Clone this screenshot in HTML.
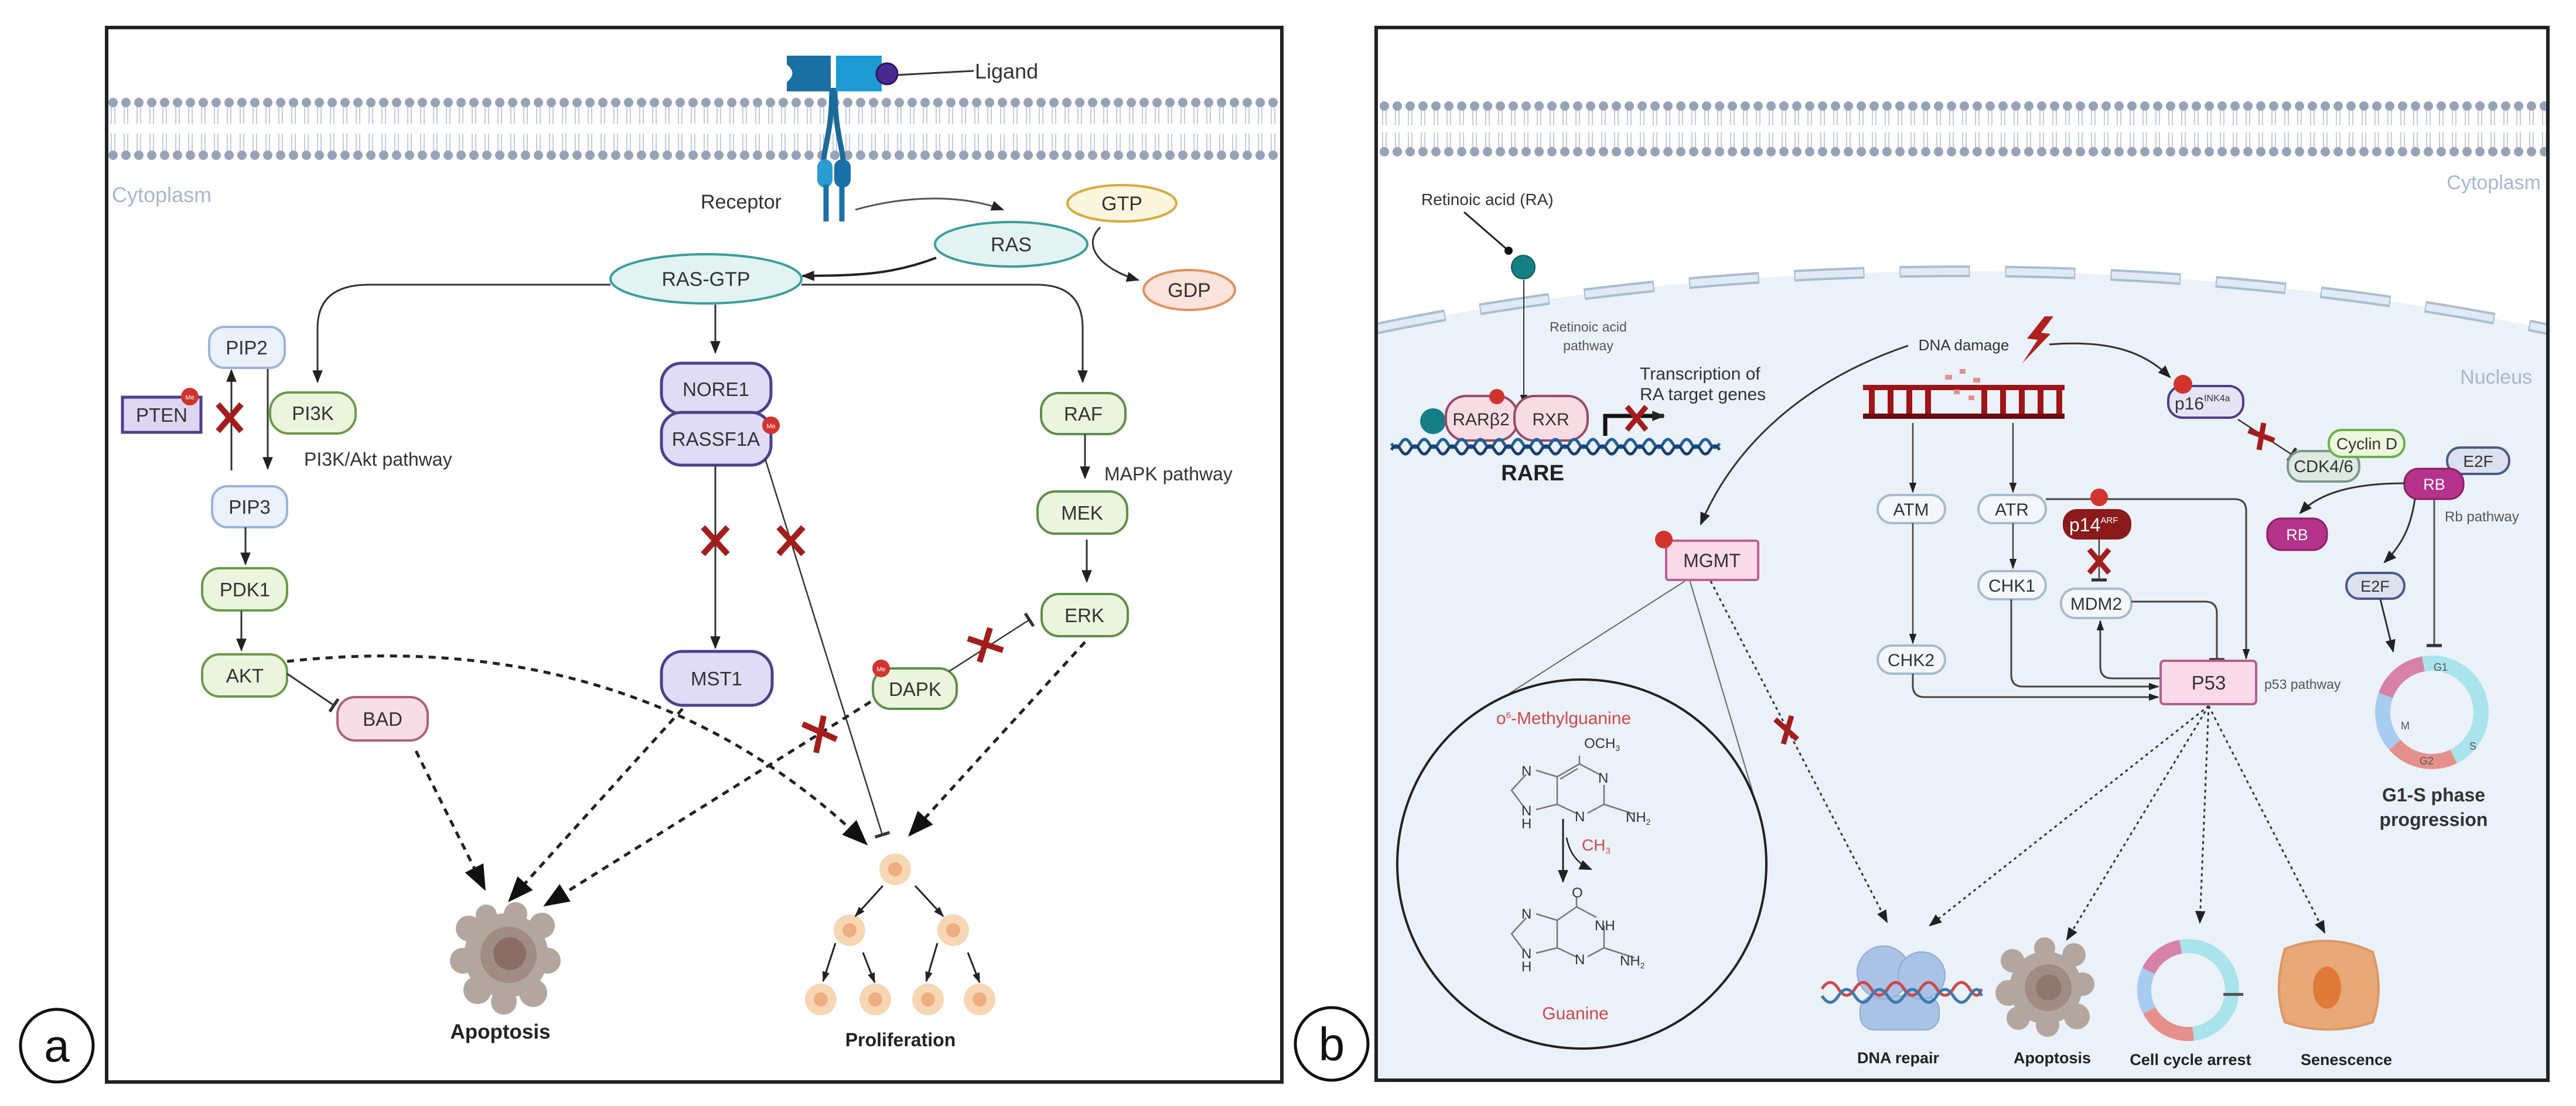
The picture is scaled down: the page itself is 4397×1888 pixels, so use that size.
<!DOCTYPE html>
<html><head><meta charset="utf-8"><style>
html,body{margin:0;padding:0;background:#fff;width:4397px;height:1888px;overflow:hidden;}
svg{display:block;font-family:"Liberation Sans",sans-serif;}
</style></head><body>
<svg width="4397" height="1888" viewBox="0 0 4397 1888" xmlns="http://www.w3.org/2000/svg" overflow="hidden">
<defs>
<marker id="ar" markerUnits="userSpaceOnUse" markerWidth="22" markerHeight="22" viewBox="0 0 10 10" refX="9" refY="5" orient="auto"><path d="M0,1 L10,5 L0,9 z" fill="#222"/></marker>
<marker id="arB" markerUnits="userSpaceOnUse" markerWidth="44" markerHeight="44" viewBox="0 0 10 10" refX="9" refY="5" orient="auto"><path d="M0,1 L10,5 L0,9 z" fill="#111"/></marker>
<marker id="arS" markerUnits="userSpaceOnUse" markerWidth="18" markerHeight="18" viewBox="0 0 10 10" refX="9" refY="5" orient="auto"><path d="M0,1.5 L10,5 L0,8.5 z" fill="#222"/></marker>
<marker id="bar" markerUnits="userSpaceOnUse" markerWidth="6" markerHeight="26" viewBox="0 0 4 20" refX="2" refY="10" orient="auto"><rect x="0" y="0" width="4" height="20" fill="#333"/></marker>
<marker id="dot" markerUnits="userSpaceOnUse" markerWidth="14" markerHeight="14" viewBox="0 0 10 10" refX="5" refY="5"><circle cx="5" cy="5" r="5" fill="#111"/></marker>
<pattern id="memA" patternUnits="userSpaceOnUse" x="182" y="160" width="22" height="120">
<line x1="8" y1="22" x2="8" y2="52" stroke="#c5cddb" stroke-width="2"/><line x1="14" y1="22" x2="14" y2="52" stroke="#c5cddb" stroke-width="2"/>
<line x1="8" y1="68" x2="8" y2="98" stroke="#c5cddb" stroke-width="2"/><line x1="14" y1="68" x2="14" y2="98" stroke="#c5cddb" stroke-width="2"/>
<circle cx="11" cy="15" r="8" fill="#95a2b8"/><circle cx="11" cy="105" r="8" fill="#95a2b8"/>
</pattern>
<pattern id="memB" patternUnits="userSpaceOnUse" x="2352" y="166" width="22" height="108">
<line x1="8" y1="22" x2="8" y2="48" stroke="#c5cddb" stroke-width="2"/><line x1="14" y1="22" x2="14" y2="48" stroke="#c5cddb" stroke-width="2"/>
<line x1="8" y1="60" x2="8" y2="86" stroke="#c5cddb" stroke-width="2"/><line x1="14" y1="60" x2="14" y2="86" stroke="#c5cddb" stroke-width="2"/>
<circle cx="11" cy="15" r="8" fill="#95a2b8"/><circle cx="11" cy="93" r="8" fill="#95a2b8"/>
</pattern>
</defs>

<!-- ================= PANEL A ================= -->
<rect x="182" y="47" width="2006" height="1800" fill="#fff" stroke="#222" stroke-width="6"/>
<rect x="185" y="160" width="2000" height="120" fill="url(#memA)"/>
<text x="191" y="345" font-size="36" fill="#a9b6d2">Cytoplasm</text>

<path d="M1420,150 C1420,230 1405,250 1405,290 M1425,150 C1425,230 1440,250 1440,290" stroke="#1a6a9a" stroke-width="9" fill="none"/>
<rect x="1395" y="272" width="26" height="48" rx="13" fill="#2a9bd0"/>
<rect x="1424" y="272" width="28" height="48" rx="13" fill="#1a70a8"/>
<line x1="1410" y1="315" x2="1410" y2="378" stroke="#1a70a8" stroke-width="9"/>
<line x1="1437" y1="315" x2="1437" y2="378" stroke="#1a70a8" stroke-width="9"/>
<path d="M1343,95 L1418,95 L1418,156 L1343,156 L1343,140 Q1362,125 1343,110 Z" fill="#1a6fa5"/>
<path d="M1427,95 L1505,95 L1505,156 L1427,156 Z" fill="#1e9ad4"/>
<circle cx="1514" cy="126" r="18" fill="#4b2a8f" stroke="#2a1560" stroke-width="3"/>
<line x1="1532" y1="128" x2="1662" y2="121" stroke="#333" stroke-width="3"/>
<text x="1664" y="134" font-size="36" fill="#333">Ligand</text>
<text x="1196" y="356" font-size="34" fill="#333">Receptor</text>
<path d="M1460,358 C1560,330 1650,335 1712,358" stroke="#555" stroke-width="3" fill="none" marker-end="url(#ar)"/>

<ellipse cx="1915" cy="347" rx="93" ry="31" fill="#fdf6de" stroke="#d9a93c" stroke-width="4"/>
<text x="1915" y="359" font-size="34" text-anchor="middle" fill="#333">GTP</text>
<ellipse cx="1726" cy="417" rx="130" ry="38" fill="#e2f3f1" stroke="#3c9e9c" stroke-width="4"/>
<text x="1726" y="429" font-size="34" text-anchor="middle" fill="#333">RAS</text>
<ellipse cx="2030" cy="495" rx="78" ry="34" fill="#fbe3dc" stroke="#e0925a" stroke-width="4"/>
<text x="2030" y="507" font-size="34" text-anchor="middle" fill="#333">GDP</text>
<path d="M1878,388 C1845,420 1880,460 1943,478" stroke="#333" stroke-width="3" fill="none" marker-end="url(#ar)"/>
<path d="M1598,440 C1520,470 1460,470 1370,471" stroke="#222" stroke-width="4" fill="none" marker-end="url(#ar)"/>

<ellipse cx="1205" cy="476" rx="163" ry="42" fill="#e2f3f1" stroke="#3c9e9c" stroke-width="4"/>
<text x="1205" y="488" font-size="34" text-anchor="middle" fill="#333">RAS-GTP</text>

<path d="M1042,486 L630,486 Q542,486 542,560 L542,652" stroke="#333" stroke-width="3" fill="none" marker-end="url(#ar)"/>
<path d="M1368,486 L1770,486 Q1848,486 1848,560 L1848,652" stroke="#333" stroke-width="3" fill="none" marker-end="url(#ar)"/>
<line x1="1221" y1="520" x2="1221" y2="602" stroke="#333" stroke-width="3" marker-end="url(#ar)"/>

<rect x="357" y="558" width="129" height="70" rx="26" fill="#eaf1fb" stroke="#9bb3dc" stroke-width="4"/>
<text x="421" y="605" font-size="33" text-anchor="middle" fill="#333">PIP2</text>
<rect x="209" y="678" width="134" height="60" fill="#ddd6f1" stroke="#4e3f8c" stroke-width="5"/>
<text x="276" y="720" font-size="33" text-anchor="middle" fill="#333">PTEN</text>
<circle cx="324" cy="677" r="15" fill="#d0342c"/><text x="324" y="682" font-size="11" text-anchor="middle" fill="#fff">Me</text>
<line x1="395" y1="803" x2="395" y2="632" stroke="#333" stroke-width="3" marker-end="url(#ar)"/>
<line x1="457" y1="630" x2="457" y2="800" stroke="#333" stroke-width="3" marker-end="url(#ar)"/>
<path d="M372,690 L412,736 M412,690 L372,736" stroke="#a31d1d" stroke-width="10"/>
<rect x="461" y="670" width="146" height="70" rx="32" fill="#ebf5dd" stroke="#6b9a4a" stroke-width="4"/>
<text x="534" y="717" font-size="33" text-anchor="middle" fill="#333">PI3K</text>
<text x="519" y="795" font-size="32" fill="#333">PI3K/Akt pathway</text>
<rect x="362" y="830" width="128" height="70" rx="26" fill="#eaf1fb" stroke="#9bb3dc" stroke-width="4"/>
<text x="426" y="877" font-size="33" text-anchor="middle" fill="#333">PIP3</text>
<line x1="419" y1="900" x2="419" y2="963" stroke="#333" stroke-width="3" marker-end="url(#ar)"/>
<rect x="345" y="970" width="145" height="72" rx="30" fill="#ebf5dd" stroke="#6b9a4a" stroke-width="4"/>
<text x="418" y="1018" font-size="33" text-anchor="middle" fill="#333">PDK1</text>
<line x1="412" y1="1043" x2="412" y2="1110" stroke="#333" stroke-width="3" marker-end="url(#ar)"/>
<rect x="345" y="1117" width="145" height="72" rx="30" fill="#ebf5dd" stroke="#6b9a4a" stroke-width="4"/>
<text x="418" y="1165" font-size="33" text-anchor="middle" fill="#333">AKT</text>
<line x1="490" y1="1150" x2="570" y2="1204" stroke="#333" stroke-width="3" marker-end="url(#bar)"/>
<rect x="576" y="1190" width="154" height="74" rx="30" fill="#f6dde6" stroke="#b0607c" stroke-width="4"/>
<text x="653" y="1239" font-size="33" text-anchor="middle" fill="#333">BAD</text>

<rect x="1129" y="620" width="187" height="86" rx="34" fill="#e0dcf5" stroke="#4e3f8c" stroke-width="5"/>
<text x="1222" y="676" font-size="33" text-anchor="middle" fill="#333">NORE1</text>
<rect x="1129" y="704" width="187" height="90" rx="34" fill="#e0dcf5" stroke="#4e3f8c" stroke-width="5"/>
<text x="1222" y="761" font-size="33" text-anchor="middle" fill="#333">RASSF1A</text>
<circle cx="1316" cy="726" r="15" fill="#d0342c"/><text x="1316" y="731" font-size="11" text-anchor="middle" fill="#fff">Me</text>
<line x1="1221" y1="795" x2="1221" y2="1106" stroke="#333" stroke-width="3" marker-end="url(#ar)"/>
<path d="M1200,900 L1242,946 M1242,900 L1200,946" stroke="#a31d1d" stroke-width="10"/>
<line x1="1306" y1="783" x2="1506" y2="1425" stroke="#333" stroke-width="2.5" marker-end="url(#bar)"/>
<path d="M1329,900 L1371,946 M1371,900 L1329,946" stroke="#a31d1d" stroke-width="10"/>
<rect x="1129" y="1112" width="189" height="92" rx="36" fill="#e0dcf5" stroke="#4e3f8c" stroke-width="5"/>
<text x="1223" y="1170" font-size="33" text-anchor="middle" fill="#333">MST1</text>

<rect x="1777" y="671" width="144" height="70" rx="30" fill="#ebf5dd" stroke="#5e8f4a" stroke-width="4"/>
<text x="1849" y="718" font-size="33" text-anchor="middle" fill="#333">RAF</text>
<text x="1885" y="820" font-size="32" fill="#333">MAPK pathway</text>
<line x1="1852" y1="741" x2="1852" y2="816" stroke="#333" stroke-width="3" marker-end="url(#ar)"/>
<rect x="1771" y="839" width="153" height="72" rx="30" fill="#ebf5dd" stroke="#5e8f4a" stroke-width="4"/>
<text x="1847" y="887" font-size="33" text-anchor="middle" fill="#333">MEK</text>
<line x1="1855" y1="921" x2="1855" y2="993" stroke="#333" stroke-width="3" marker-end="url(#ar)"/>
<rect x="1778" y="1014" width="147" height="72" rx="30" fill="#ebf5dd" stroke="#5e8f4a" stroke-width="4"/>
<text x="1851" y="1062" font-size="33" text-anchor="middle" fill="#333">ERK</text>
<rect x="1490" y="1141" width="143" height="69" rx="30" fill="#ebf5dd" stroke="#5e8f4a" stroke-width="4"/>
<text x="1562" y="1188" font-size="33" text-anchor="middle" fill="#333">DAPK</text>
<circle cx="1504" cy="1141" r="15" fill="#d0342c"/><text x="1504" y="1146" font-size="11" text-anchor="middle" fill="#fff">Me</text>
<line x1="1620" y1="1146" x2="1757" y2="1058" stroke="#333" stroke-width="2.5" marker-end="url(#bar)"/>
<path d="M1652,1090 L1712,1110 M1690,1072 L1672,1130" stroke="#a31d1d" stroke-width="10"/>

<g stroke="#222" stroke-width="5" stroke-dasharray="12 10" fill="none">
<path d="M490,1129 C850,1090 1200,1170 1478,1440" marker-end="url(#arB)"/>
<path d="M710,1282 L827,1517" marker-end="url(#arB)"/>
<path d="M1165,1210 L870,1537" marker-end="url(#arB)"/>
<path d="M1486,1198 L931,1545" marker-end="url(#arB)"/>
<path d="M1852,1096 L1553,1425" marker-end="url(#arB)"/>
</g>
<path d="M1370,1236 L1428,1262 M1406,1222 L1393,1285" stroke="#a31d1d" stroke-width="10"/>

<g fill="#b3a69e">
<circle cx="864" cy="1631" r="72"/><circle cx="800" cy="1585" r="22"/><circle cx="790" cy="1640" r="22"/><circle cx="815" cy="1690" r="24"/>
<circle cx="860" cy="1710" r="22"/><circle cx="910" cy="1695" r="24"/><circle cx="935" cy="1640" r="22"/><circle cx="925" cy="1580" r="22"/>
<circle cx="880" cy="1560" r="20"/><circle cx="830" cy="1562" r="18"/></g>
<circle cx="868" cy="1630" r="48" fill="#a08c84"/><circle cx="870" cy="1628" r="28" fill="#8a6e66"/>
<text x="854" y="1773" font-size="35" font-weight="bold" text-anchor="middle" fill="#222">Apoptosis</text>

<g fill="#f7d6b4"><circle cx="1528" cy="1484" r="27"/><circle cx="1450" cy="1588" r="27"/><circle cx="1627" cy="1588" r="27"/>
<circle cx="1401" cy="1706" r="27"/><circle cx="1494" cy="1706" r="27"/><circle cx="1584" cy="1706" r="27"/><circle cx="1672" cy="1706" r="27"/></g>
<g fill="#efad82"><circle cx="1528" cy="1484" r="12"/><circle cx="1450" cy="1588" r="12"/><circle cx="1627" cy="1588" r="12"/>
<circle cx="1401" cy="1706" r="12"/><circle cx="1494" cy="1706" r="12"/><circle cx="1584" cy="1706" r="12"/><circle cx="1672" cy="1706" r="12"/></g>
<g stroke="#222" stroke-width="3" marker-end="url(#arS)">
<line x1="1507" y1="1512" x2="1460" y2="1564"/><line x1="1562" y1="1512" x2="1610" y2="1564"/>
<line x1="1426" y1="1610" x2="1405" y2="1675"/><line x1="1473" y1="1626" x2="1493" y2="1677"/>
<line x1="1600" y1="1610" x2="1581" y2="1675"/><line x1="1652" y1="1626" x2="1672" y2="1677"/>
</g>
<text x="1537" y="1786" font-size="32" font-weight="bold" text-anchor="middle" fill="#222">Proliferation</text>

<circle cx="97" cy="1785" r="62" fill="#fff" stroke="#111" stroke-width="5"/>
<text x="97" y="1812" font-size="78" text-anchor="middle" fill="#111">a</text>

<!-- ================= PANEL B ================= -->
<rect x="2349" y="47" width="2000" height="1797" fill="#fff" stroke="#222" stroke-width="6"/>
<path d="M2349,561 A2200,900 0 0 1 4349,562 L4349,1844 L2349,1844 Z" fill="#ebf1f8"/>
<path d="M2349,561 A2200,900 0 0 1 4349,562" fill="none" stroke="#a9bdd0" stroke-width="20" stroke-dasharray="120 60"/>
<path d="M2349,561 A2200,900 0 0 1 4349,562" fill="none" stroke="#dfeaf4" stroke-width="12" stroke-dasharray="116 64" stroke-dashoffset="-2"/>
<rect x="2349" y="47" width="2000" height="1797" fill="none" stroke="#222" stroke-width="6"/>
<rect x="2352" y="166" width="1994" height="108" fill="url(#memB)"/>
<text x="4337" y="323" font-size="34" text-anchor="end" fill="#a9b6d2">Cytoplasm</text>
<text x="4322" y="655" font-size="34" text-anchor="end" fill="#a9b6d2">Nucleus</text>

<text x="2426" y="350" font-size="28" fill="#333">Retinoic acid (RA)</text>
<line x1="2499" y1="362" x2="2575" y2="428" stroke="#222" stroke-width="3" marker-end="url(#dot)"/>
<circle cx="2600" cy="456" r="20" fill="#157f86" stroke="#0b5a60" stroke-width="2"/>
<line x1="2601" y1="478" x2="2601" y2="690" stroke="#333" stroke-width="2" marker-end="url(#arS)"/>
<text x="2711" y="566" font-size="23" text-anchor="middle" fill="#555">Retinoic acid</text>
<text x="2711" y="598" font-size="23" text-anchor="middle" fill="#555">pathway</text>
<circle cx="2446" cy="719" r="22" fill="#157f86"/>
<rect x="2468" y="676" width="122" height="76" rx="34" fill="#f7dce4" stroke="#9c4868" stroke-width="4"/>
<rect x="2585" y="676" width="125" height="76" rx="34" fill="#f7dce4" stroke="#9c4868" stroke-width="4"/>
<text x="2528" y="726" font-size="30" text-anchor="middle" fill="#333">RARβ2</text>
<text x="2647" y="726" font-size="30" text-anchor="middle" fill="#333">RXR</text>
<circle cx="2555" cy="677" r="13" fill="#d0342c"/>
<path d="M2375,757 q8,14 16,0 t16,0 t16,0 t16,0 t16,0 t16,0 t16,0 t16,0 t16,0 t16,0 t16,0 t16,0 t16,0 t16,0 t16,0 t16,0 t16,0 t16,0 t16,0 t16,0 t16,0 t16,0 t16,0 t16,0 t16,0 t16,0 t16,0 t16,0 t16,0 t16,0 t16,0 t16,0 t16,0 t16,0 t16,0" stroke="#1c5f9a" stroke-width="5" fill="none"/>
<path d="M2375,768 q8,-14 16,0 t16,0 t16,0 t16,0 t16,0 t16,0 t16,0 t16,0 t16,0 t16,0 t16,0 t16,0 t16,0 t16,0 t16,0 t16,0 t16,0 t16,0 t16,0 t16,0 t16,0 t16,0 t16,0 t16,0 t16,0 t16,0 t16,0 t16,0 t16,0 t16,0 t16,0 t16,0 t16,0 t16,0 t16,0" stroke="#1a3f70" stroke-width="5" fill="none"/>
<text x="2616" y="820" font-size="38" font-weight="bold" text-anchor="middle" fill="#222">RARE</text>
<path d="M2740,744 L2740,710 L2840,710" stroke="#111" stroke-width="7" fill="none" marker-end="url(#ar)"/>
<path d="M2777,694 L2810,734 M2810,694 L2777,734" stroke="#a31d1d" stroke-width="9"/>
<text x="2799" y="648" font-size="30" fill="#333">Transcription of</text>
<text x="2799" y="683" font-size="30" fill="#333">RA target genes</text>

<text x="3352" y="598" font-size="26" text-anchor="middle" fill="#333">DNA damage</text>
<path d="M3490,540 L3460,578 L3478,580 L3452,620 L3500,570 L3484,568 L3505,540 Z" fill="#b0201f"/>
<rect x="3180" y="657" width="344" height="9" fill="#9c1418"/>
<rect x="3180" y="706" width="344" height="9" fill="#6a0c10"/>
<g fill="#a01418"><rect x="3190" y="666" width="10" height="40"/><rect x="3222" y="666" width="10" height="40"/><rect x="3254" y="666" width="10" height="40"/><rect x="3286" y="666" width="10" height="40"/><rect x="3382" y="666" width="10" height="40"/><rect x="3414" y="666" width="10" height="40"/><rect x="3446" y="666" width="10" height="40"/><rect x="3478" y="666" width="10" height="40"/><rect x="3510" y="666" width="10" height="40"/></g>
<g fill="#e09090"><rect x="3320" y="640" width="12" height="8"/><rect x="3345" y="630" width="10" height="8"/><rect x="3368" y="645" width="12" height="8"/><rect x="3335" y="665" width="10" height="8"/><rect x="3360" y="675" width="10" height="8"/></g>
<path d="M3257,590 C3080,650 2960,760 2903,895" stroke="#333" stroke-width="3" fill="none" marker-end="url(#ar)"/>
<path d="M3498,588 C3600,580 3660,600 3704,644" stroke="#333" stroke-width="3" fill="none" marker-end="url(#ar)"/>

<rect x="3701" y="659" width="128" height="54" rx="24" fill="#e7e3f7" stroke="#4e3f8c" stroke-width="4"/>
<text x="3712" y="699" font-size="30" fill="#333">p16<tspan font-size="16" dy="-14">INK4a</tspan></text>
<circle cx="3726" cy="656" r="16" fill="#d0342c"/>
<line x1="3820" y1="716" x2="3912" y2="776" stroke="#333" stroke-width="2.5" marker-end="url(#bar)"/>
<path d="M3838,735 L3882,752 M3864,722 L3856,768" stroke="#a31d1d" stroke-width="9"/>
<rect x="3905" y="770" width="122" height="52" rx="24" fill="#dde9e2" stroke="#7a9a8a" stroke-width="4"/>
<text x="3966" y="806" font-size="29" text-anchor="middle" fill="#333">CDK4/6</text>
<rect x="3975" y="734" width="129" height="46" rx="22" fill="#ecf8dc" stroke="#6ab04a" stroke-width="4"/>
<text x="4040" y="767" font-size="28" text-anchor="middle" fill="#333">Cyclin D</text>
<rect x="4177" y="764" width="106" height="45" rx="22" fill="#dde0ef" stroke="#4a5a8a" stroke-width="4"/>
<text x="4230" y="797" font-size="28" text-anchor="middle" fill="#333">E2F</text>
<rect x="4104" y="800" width="101" height="52" rx="24" fill="#b5338a" stroke="#8a2068" stroke-width="3"/>
<text x="4155" y="836" font-size="27" text-anchor="middle" fill="#fff">RB</text>
<path d="M4104,825 C4020,825 3960,840 3926,876" stroke="#333" stroke-width="3" fill="none" marker-end="url(#ar)"/>
<rect x="3870" y="885" width="102" height="54" rx="24" fill="#b5338a" stroke="#8a2068" stroke-width="3"/>
<text x="3921" y="922" font-size="27" text-anchor="middle" fill="#fff">RB</text>
<text x="4173" y="890" font-size="24" fill="#555">Rb pathway</text>
<path d="M4122,852 C4115,900 4100,930 4070,960" stroke="#333" stroke-width="3" fill="none" marker-end="url(#ar)"/>
<rect x="4005" y="978" width="99" height="44" rx="22" fill="#dde0ef" stroke="#4a5a8a" stroke-width="4"/>
<text x="4054" y="1010" font-size="27" text-anchor="middle" fill="#333">E2F</text>
<line x1="4063" y1="1023" x2="4085" y2="1112" stroke="#333" stroke-width="3" marker-end="url(#ar)"/>
<line x1="4155" y1="852" x2="4155" y2="1102" stroke="#555" stroke-width="3" marker-end="url(#bar)"/>
<g fill="none" stroke-width="26" transform="rotate(-100 4151 1216)">
<circle cx="4151" cy="1216" r="84" stroke="#a9e3ec" stroke-dasharray="240 288"/>
<circle cx="4151" cy="1216" r="84" stroke="#e6908c" stroke-dasharray="0 240 110 178"/>
<circle cx="4151" cy="1216" r="84" stroke="#a8cbf2" stroke-dasharray="0 350 90 88"/>
<circle cx="4151" cy="1216" r="84" stroke="#d682a8" stroke-dasharray="0 440 88 0"/>
</g>
<text x="4154" y="1145" font-size="18" fill="#555">G1</text><text x="4098" y="1245" font-size="18" fill="#555">M</text><text x="4215" y="1280" font-size="18" fill="#555">S</text><text x="4130" y="1305" font-size="18" fill="#555">G2</text>
<text x="4154" y="1368" font-size="32" font-weight="bold" text-anchor="middle" fill="#333">G1-S phase</text>
<text x="4154" y="1410" font-size="32" font-weight="bold" text-anchor="middle" fill="#333">progression</text>

<line x1="3265" y1="722" x2="3265" y2="840" stroke="#444" stroke-width="2.5" marker-end="url(#arS)"/>
<line x1="3436" y1="722" x2="3436" y2="840" stroke="#444" stroke-width="2.5" marker-end="url(#arS)"/>
<g fill="#f3f7fc" stroke="#a8bace" stroke-width="4">
<rect x="3205" y="845" width="115" height="48" rx="24"/><rect x="3377" y="845" width="115" height="48" rx="24"/>
<rect x="3377" y="975" width="115" height="48" rx="24"/><rect x="3205" y="1102" width="115" height="48" rx="24"/>
<rect x="3518" y="1005" width="120" height="50" rx="24"/></g>
<g font-size="30" text-anchor="middle" fill="#333">
<text x="3262" y="880">ATM</text><text x="3434" y="880">ATR</text><text x="3434" y="1010">CHK1</text><text x="3262" y="1137">CHK2</text><text x="3578" y="1041">MDM2</text></g>
<line x1="3265" y1="893" x2="3265" y2="1098" stroke="#444" stroke-width="2.5" marker-end="url(#arS)"/>
<line x1="3436" y1="893" x2="3436" y2="970" stroke="#444" stroke-width="2.5" marker-end="url(#arS)"/>
<path d="M3492,852 L3814,852 Q3834,852 3834,872 L3834,1124" stroke="#444" stroke-width="3" fill="none" marker-end="url(#arS)"/>
<path d="M3433,1023 L3433,1152 Q3433,1172 3453,1172 L3684,1172" stroke="#444" stroke-width="3" fill="none" marker-end="url(#arS)"/>
<path d="M3265,1150 L3265,1170 Q3265,1190 3285,1190 L3684,1190" stroke="#444" stroke-width="3" fill="none" marker-end="url(#arS)"/>
<path d="M3638,1027 L3764,1027 Q3784,1027 3784,1047 L3784,1126" stroke="#444" stroke-width="3" fill="none" marker-end="url(#bar)"/>
<path d="M3688,1158 L3605,1158 Q3585,1158 3585,1138 L3585,1060" stroke="#444" stroke-width="3" fill="none" marker-end="url(#arS)"/>
<rect x="3521" y="869" width="117" height="52" rx="24" fill="#8b1a1a"/>
<text x="3532" y="907" font-size="32" fill="#fff">p14<tspan font-size="15" dy="-14">ARF</tspan></text>
<circle cx="3583" cy="849" r="15" fill="#d0342c"/>
<line x1="3583" y1="921" x2="3583" y2="990" stroke="#444" stroke-width="2.5" marker-end="url(#bar)"/>
<path d="M3566,938 L3600,978 M3600,938 L3566,978" stroke="#a31d1d" stroke-width="9"/>
<rect x="3688" y="1128" width="163" height="74" rx="6" fill="#fad9e8" stroke="#b0608a" stroke-width="4"/>
<text x="3770" y="1177" font-size="33" text-anchor="middle" fill="#333">P53</text>
<text x="3865" y="1176" font-size="23" fill="#555">p53 pathway</text>

<line x1="2876" y1="992" x2="2554" y2="1198" stroke="#666" stroke-width="2"/>
<line x1="2884" y1="990" x2="2994" y2="1360" stroke="#666" stroke-width="2"/>
<rect x="2844" y="923" width="157" height="67" rx="4" fill="#fad9e8" stroke="#c06090" stroke-width="4"/>
<text x="2922" y="968" font-size="32" text-anchor="middle" fill="#333">MGMT</text>
<circle cx="2840" cy="921" r="15" fill="#d0342c"/>
<circle cx="2700" cy="1475" r="315" fill="#ebf1f8" stroke="#222" stroke-width="4"/>
<text x="2669" y="1236" font-size="30" text-anchor="middle" fill="#d04848">o<tspan font-size="15" dy="-10">6</tspan><tspan dy="10">-Methylguanine</tspan></text>
<g stroke="#777" stroke-width="2.5" fill="none">
<path d="M2696,1290 L2696,1304 L2730,1322 M2738,1340 L2738,1373 L2710,1388 M2690,1388 L2658,1373 L2658,1326 L2696,1304 M2663,1330 L2693,1312"/>
<path d="M2658,1326 L2622,1315 M2605,1322 L2580,1349 L2600,1376 M2622,1382 L2658,1373 M2738,1373 L2790,1390"/>
<path d="M2691,1530 L2691,1548 L2725,1566 M2738,1580 L2738,1618 L2710,1633 M2690,1633 L2658,1618 L2658,1571 L2691,1548"/>
<path d="M2658,1571 L2622,1560 M2605,1567 L2580,1594 L2600,1621 M2622,1627 L2658,1618 M2738,1618 L2790,1635"/>
</g>
<g font-size="24" fill="#333">
<text x="2704" y="1277">OCH<tspan font-size="14" dy="5">3</tspan></text>
<text x="2728" y="1336">N</text><text x="2688" y="1402">N</text><text x="2597" y="1324">N</text><text x="2597" y="1392">N</text><text x="2597" y="1414">H</text>
<text x="2775" y="1403">NH<tspan font-size="14" dy="5">2</tspan></text>
<text x="2683" y="1532">O</text><text x="2722" y="1588">NH</text><text x="2688" y="1646">N</text><text x="2597" y="1568">N</text><text x="2597" y="1636">N</text><text x="2597" y="1658">H</text>
<text x="2765" y="1648">NH<tspan font-size="14" dy="5">2</tspan></text></g>
<line x1="2668" y1="1398" x2="2668" y2="1505" stroke="#222" stroke-width="3" marker-end="url(#ar)"/>
<path d="M2674,1430 C2680,1460 2695,1475 2716,1484" stroke="#222" stroke-width="2.5" fill="none" marker-end="url(#ar)"/>
<text x="2700" y="1452" font-size="28" fill="#d04848">CH<tspan font-size="15" dy="5">3</tspan></text>
<text x="2689" y="1740" font-size="30" text-anchor="middle" fill="#d04848">Guanine</text>

<g stroke="#333" stroke-width="3" stroke-dasharray="5 6" fill="none">
<path d="M2920,992 L3221,1574" marker-end="url(#ar)"/>
<path d="M3770,1205 L3294,1580" marker-end="url(#ar)"/>
<path d="M3770,1205 L3528,1604" marker-end="url(#ar)"/>
<path d="M3770,1205 L3755,1575" marker-end="url(#ar)"/>
<path d="M3770,1205 L3968,1592" marker-end="url(#ar)"/>
</g>
<path d="M3030,1228 L3068,1262 M3058,1222 L3044,1270" stroke="#a31d1d" stroke-width="9"/>

<g fill="#a9c3e6" stroke="#8eaad0" stroke-width="2">
<rect x="3175" y="1700" width="135" height="58" rx="24"/>
<circle cx="3215" cy="1660" r="45"/><circle cx="3280" cy="1665" r="40"/></g>
<path d="M3110,1688 q14,-22 28,0 t28,0 t28,0 t28,0 t28,0 t28,0 t28,0 t28,0 t28,0 t20,0" stroke="#d04848" stroke-width="5" fill="none"/>
<path d="M3110,1700 q14,22 28,0 t28,0 t28,0 t28,0 t28,0 t28,0 t28,0 t28,0 t28,0 t20,0" stroke="#3a7ab0" stroke-width="5" fill="none"/>
<g fill="#b3a69e">
<circle cx="3492" cy="1686" r="62"/><circle cx="3435" cy="1640" r="20"/><circle cx="3428" cy="1695" r="22"/><circle cx="3445" cy="1738" r="20"/>
<circle cx="3495" cy="1750" r="20"/><circle cx="3545" cy="1735" r="22"/><circle cx="3555" cy="1680" r="20"/><circle cx="3540" cy="1630" r="20"/><circle cx="3490" cy="1618" r="18"/></g>
<circle cx="3496" cy="1686" r="40" fill="#a08c84"/><circle cx="3497" cy="1686" r="22" fill="#8f766e"/>
<g fill="none" stroke-width="24" transform="rotate(-100 3735 1690)">
<circle cx="3735" cy="1690" r="75" stroke="#a9e3ec" stroke-dasharray="240 232"/>
<circle cx="3735" cy="1690" r="75" stroke="#e6908c" stroke-dasharray="0 240 90 142"/>
<circle cx="3735" cy="1690" r="75" stroke="#a8cbf2" stroke-dasharray="0 330 70 72"/>
<circle cx="3735" cy="1690" r="75" stroke="#d682a8" stroke-dasharray="0 400 72 0"/>
</g>
<rect x="3795" y="1695" width="34" height="5" fill="#555"/>
<path d="M3900,1620 Q3975,1590 4050,1625 Q4070,1690 4050,1745 Q3975,1770 3900,1745 Q3880,1690 3900,1620 Z" fill="#e8a878" stroke="#dc9868" stroke-width="4"/>
<ellipse cx="3972" cy="1686" rx="24" ry="36" fill="#e07a38"/>
<g font-size="27" font-weight="bold" text-anchor="middle" fill="#222">
<text x="3240" y="1815">DNA repair</text><text x="3503" y="1815">Apoptosis</text><text x="3739" y="1818">Cell cycle arrest</text><text x="4005" y="1818">Senescence</text></g>

<circle cx="2273" cy="1782" r="62" fill="#fff" stroke="#111" stroke-width="5"/>
<text x="2273" y="1810" font-size="80" text-anchor="middle" fill="#111">b</text>
</svg>
</body></html>
